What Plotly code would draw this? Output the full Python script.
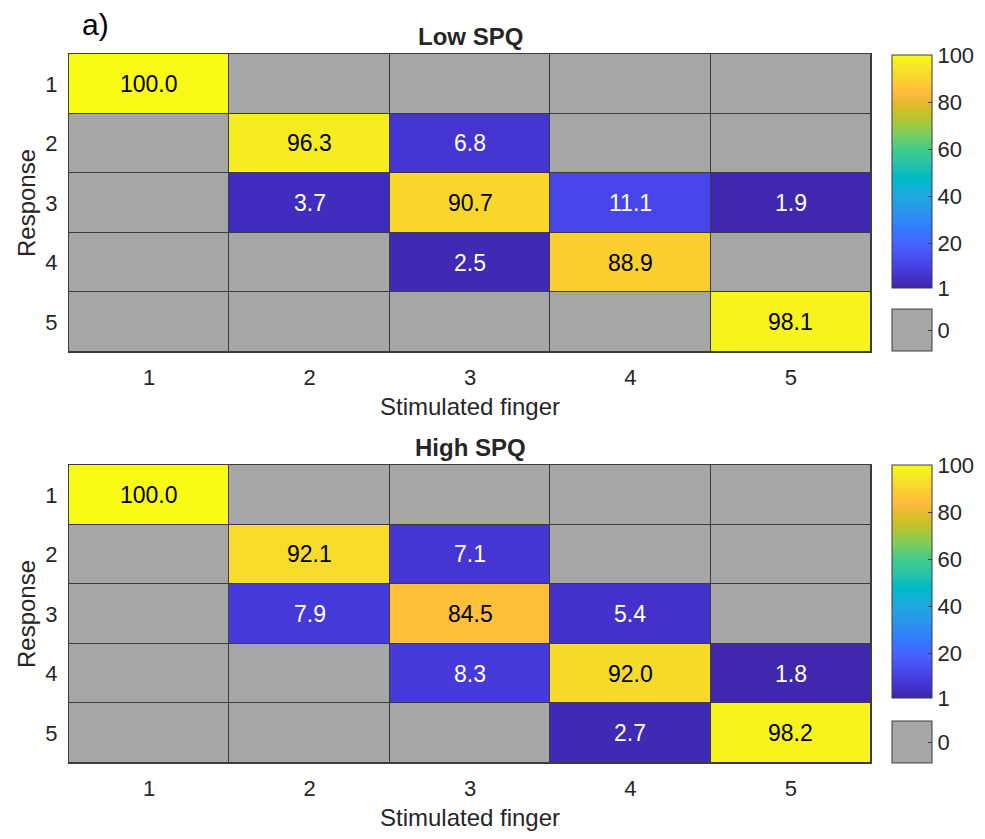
import plotly.graph_objects as go

# ---- data ----
fingers = [1, 2, 3, 4, 5]          # stimulated finger (x)
responses = [1, 2, 3, 4, 5]        # response (y)
low_spq = [                         # rows = response, cols = stimulated finger
    [100.0, 0, 0, 0, 0],
    [0, 96.3, 6.8, 0, 0],
    [0, 3.7, 90.7, 11.1, 1.9],
    [0, 0, 2.5, 88.9, 0],
    [0, 0, 0, 0, 98.1],
]
high_spq = [
    [100.0, 0, 0, 0, 0],
    [0, 92.1, 7.1, 0, 0],
    [0, 7.9, 84.5, 5.4, 0],
    [0, 0, 8.3, 92.0, 1.8],
    [0, 0, 0, 2.7, 98.2],
]
titles = ["Low SPQ", "High SPQ"]
cbar_ticks = [1, 20, 40, 60, 80, 100]

parula = [
    [0.2422, 0.1504, 0.6603], [0.2504, 0.1650, 0.7076], [0.2578, 0.1818, 0.7511], [0.2647, 0.1978, 0.7952],
    [0.2706, 0.2147, 0.8364], [0.2751, 0.2342, 0.8710], [0.2783, 0.2559, 0.8991], [0.2803, 0.2782, 0.9221],
    [0.2813, 0.3006, 0.9414], [0.2810, 0.3228, 0.9579], [0.2795, 0.3447, 0.9717], [0.2760, 0.3667, 0.9829],
    [0.2699, 0.3892, 0.9906], [0.2602, 0.4123, 0.9952], [0.2440, 0.4358, 0.9988], [0.2206, 0.4603, 0.9973],
    [0.1963, 0.4847, 0.9892], [0.1834, 0.5074, 0.9798], [0.1786, 0.5289, 0.9682], [0.1764, 0.5499, 0.9520],
    [0.1687, 0.5703, 0.9359], [0.1540, 0.5902, 0.9218], [0.1460, 0.6091, 0.9079], [0.1380, 0.6276, 0.8973],
    [0.1248, 0.6459, 0.8883], [0.1113, 0.6635, 0.8763], [0.0952, 0.6798, 0.8598], [0.0689, 0.6948, 0.8394],
    [0.0297, 0.7082, 0.8163], [0.0036, 0.7203, 0.7917], [0.0067, 0.7312, 0.7660], [0.0433, 0.7411, 0.7394],
    [0.0964, 0.7500, 0.7120], [0.1408, 0.7584, 0.6842], [0.1717, 0.7670, 0.6554], [0.1938, 0.7758, 0.6251],
    [0.2161, 0.7843, 0.5923], [0.2470, 0.7918, 0.5567], [0.2906, 0.7973, 0.5188], [0.3406, 0.8008, 0.4789],
    [0.3909, 0.8029, 0.4354], [0.4456, 0.8024, 0.3909], [0.5044, 0.7993, 0.3480], [0.5616, 0.7942, 0.3045],
    [0.6174, 0.7876, 0.2612], [0.6720, 0.7793, 0.2227], [0.7242, 0.7698, 0.1910], [0.7738, 0.7598, 0.1646],
    [0.8203, 0.7498, 0.1535], [0.8634, 0.7406, 0.1596], [0.9035, 0.7330, 0.1774], [0.9393, 0.7288, 0.2100],
    [0.9728, 0.7298, 0.2394], [0.9956, 0.7434, 0.2371], [0.9970, 0.7659, 0.2199], [0.9952, 0.7893, 0.2028],
    [0.9892, 0.8136, 0.1885], [0.9786, 0.8386, 0.1766], [0.9676, 0.8639, 0.1643], [0.9610, 0.8890, 0.1537],
    [0.9597, 0.9135, 0.1423], [0.9628, 0.9373, 0.1265], [0.9691, 0.9606, 0.1064], [0.9769, 0.9839, 0.0805],
]
n = len(parula)
parula_scale = [[i / (n - 1), "rgb(%d,%d,%d)" % tuple(round(c * 255) for c in col)] for i, col in enumerate(parula)]

GRAY = "rgb(166,166,166)"
LINE = "rgb(60,60,60)"
TXT = "rgb(38,38,38)"
FONT = "Liberation Sans"

W, H = 985, 839
x_dom = [69 / W, 871 / W]
y_doms = [[1 - 352 / H, 1 - 54 / H], [1 - 763 / H, 1 - 465 / H]]
cb_main = [(55, 288), (465, 698)]
cb_zero = [(309, 351), (721, 763)]

fig = go.Figure()
annotations = []

for k, (mat, title) in enumerate(zip([low_spq, high_spq], titles)):
    xa = "x" if k == 0 else "x2"
    ya = "y" if k == 0 else "y2"
    z_val = [[v if v > 0 else None for v in row] for row in mat]
    z_zero = [[0 if v == 0 else None for v in row] for row in mat]
    t0, t1 = cb_main[k]
    fig.add_trace(go.Heatmap(
        x=fingers, y=responses, z=z_val, xaxis=xa, yaxis=ya,
        colorscale=parula_scale, zmin=1, zmax=100, xgap=1, ygap=1,
        hoverongaps=False,
        colorbar=dict(
            x=892 / W, xanchor="left", xpad=0, ypad=0,
            y=1 - (t0 + t1) / 2 / H, yanchor="middle",
            lenmode="pixels", len=t1 - t0, thickness=40,
            outlinecolor=LINE, outlinewidth=1,
            tickmode="array", tickvals=cbar_ticks, ticks="inside",
            ticklen=4, tickcolor=LINE, tickprefix=" ",
            tickfont=dict(family=FONT, size=22, color=TXT),
        ),
    ))
    z0, z1 = cb_zero[k]
    fig.add_trace(go.Heatmap(
        x=fingers, y=responses, z=z_zero, xaxis=xa, yaxis=ya,
        colorscale=[[0, GRAY], [1, GRAY]], zmin=-0.5, zmax=0.5, xgap=1, ygap=1,
        hoverongaps=False,
        colorbar=dict(
            x=892 / W, xanchor="left", xpad=0, ypad=0,
            y=1 - (z0 + z1) / 2 / H, yanchor="middle",
            lenmode="pixels", len=z1 - z0, thickness=40,
            outlinecolor=LINE, outlinewidth=1,
            tickmode="array", tickvals=[0], ticks="inside",
            ticklen=4, tickcolor=LINE, tickprefix=" ",
            tickfont=dict(family=FONT, size=22, color=TXT),
        ),
    ))
    for i, r in enumerate(responses):
        for j, f in enumerate(fingers):
            v = mat[i][j]
            if v > 0:
                annotations.append(dict(
                    x=f, y=r, xref=xa, yref=ya, text=f"{v:.1f}", showarrow=False,
                    font=dict(family=FONT, size=23, color="black" if v > 50 else "white"),
                ))
    annotations.append(dict(
        x=(x_dom[0] + x_dom[1]) / 2, y=y_doms[k][1], xref="paper", yref="paper",
        yanchor="bottom", yshift=2, text=f"<b>{title}</b>", showarrow=False,
        font=dict(family=FONT, size=24, color=TXT),
    ))

annotations.append(dict(
    x=80 / W, y=1 - 6 / H, xref="paper", yref="paper", xanchor="left", yanchor="top",
    text="a)", showarrow=False, font=dict(family=FONT, size=30, color="black"),
))

axis_common = dict(
    showgrid=False, zeroline=False, showline=True, mirror=True,
    linecolor=LINE, linewidth=1, ticks="", tickmode="array",
    tickfont=dict(family=FONT, size=22, color=TXT),
)

layout = dict(
    width=W, height=H, margin=dict(l=0, r=0, t=0, b=0),
    paper_bgcolor="white", plot_bgcolor=LINE, showlegend=False,
    annotations=annotations,
)
for k in range(2):
    sx = "" if k == 0 else "2"
    layout["xaxis" + sx] = dict(
        axis_common, domain=x_dom, anchor="y" + sx, tickvals=fingers,
        range=[0.5, 5.5], ticklabelstandoff=6,
        title=dict(text="Stimulated finger", font=dict(family=FONT, size=24, color=TXT), standoff=8),
    )
    layout["yaxis" + sx] = dict(
        axis_common, domain=y_doms[k], anchor="x" + sx, tickvals=responses,
        range=[5.5, 0.5], ticklabelstandoff=6,
        title=dict(text="Response", font=dict(family=FONT, size=24, color=TXT), standoff=2),
    )

fig.update_layout(**layout)
fig.write_html("out.html")
